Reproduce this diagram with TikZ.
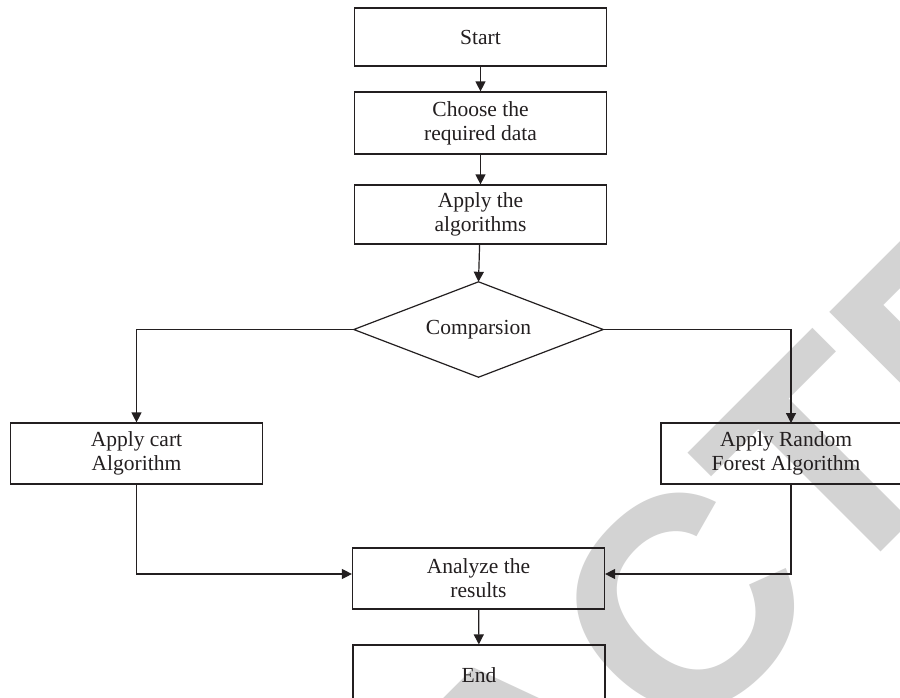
\documentclass[tikz,border=0pt]{standalone}
\usepackage{fontspec}
\setmainfont{Liberation Serif}
\newfontfamily\wmfont{Liberation Sans}
\usetikzlibrary{arrows.meta}
\definecolor{ink}{HTML}{231F20}
\definecolor{wmgray}{HTML}{D3D3D3}
\begin{document}
\begin{tikzpicture}[x=1pt,y=-1pt,
  box/.style={draw=ink, line width=1.2pt, minimum width=252pt, minimum height=61pt,
    inner sep=0pt, align=center, text=ink, font=\fontsize{21.5}{24}\selectfont},
  conn/.style={draw=ink, line width=1.2pt, -{Triangle[length=10pt,width=10pt]}},
  plain/.style={draw=ink, line width=1.2pt}]
\useasboundingbox (0,0) rectangle (900,697);
\fill[white] (0,0) rectangle (900,697);
% watermark
\begin{scope}
\clip (0,0) rectangle (900,697);
\node[rotate=45, anchor=base west, inner sep=0pt, text=wmgray,
  font=\wmfont\bfseries\fontsize{300}{300}\selectfont] (wm) at (-51.9,1485.7) {RETRACTED};
\end{scope}
% nodes
\node[box, minimum height=58pt] (start) at (480.5,37) {Start};
\node[box, minimum height=62pt] (choose) at (480.5,123) {Choose the\\required data};
\node[box, minimum height=59pt] (apply) at (480.5,214.5) {Apply the\\algorithms};
\node[minimum width=249pt, minimum height=95pt, inner sep=0pt, text=ink,
  font=\fontsize{21.5}{24}\selectfont] (cmp) at (478.5,329.5) {Comparsion};
\draw[plain, line join=miter] (cmp.north) -- (cmp.east) -- (cmp.south) -- (cmp.west) -- cycle;
\node[box] (cart) at (136.5,453.5) {Apply cart\\Algorithm};
\node[box, minimum width=250pt] (rf) at (786,453.5) {Apply Random\\Forest Algorithm};
\node[box] (ana) at (478.5,578.5) {Analyze the\\results};
\node[box] (fin) at (479,675.5) {End};
\coordinate (rfin) at (791,423);
\coordinate (rfout) at (791,484);
% connectors
\draw[conn] (start) -- (choose);
\draw[conn] (choose) -- (apply);
\draw[conn] (apply) -- (cmp.north);
\draw[conn] (cmp.west) -| (cart.north);
\draw[conn] (cmp.east) -| (rfin);
\draw[conn] (cart.south) |- ([yshift=4.5pt]ana.west);
\draw[conn] (rfout) |- ([yshift=4.5pt]ana.east);
\draw[conn] (ana) -- (fin);
\end{tikzpicture}
\end{document}
